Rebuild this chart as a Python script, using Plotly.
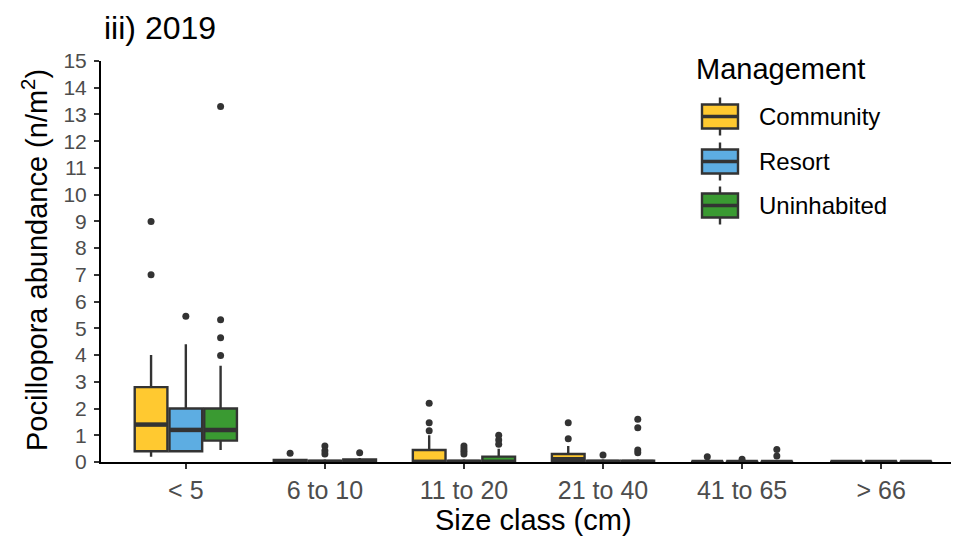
import plotly.graph_objects as go

# ---------------- data ----------------
categories = ["< 5", "6 to 10", "11 to 20", "21 to 40", "41 to 65", "> 66"]
groups = ["Community", "Resort", "Uninhabited"]
colors = ["#FFC930", "#5DADE2", "#3A9A32"]

community_q1 = [0.4, 0, 0, 0, 0, 0]
community_median = [1.4, 0, 0, 0.1, 0, 0]
community_q3 = [2.8, 0.08, 0.45, 0.3, 0, 0]
community_lower = [0.2, 0, 0, 0, 0, 0]
community_upper = [4.0, 0.1, 1.0, 0.6, 0, 0]
community_outliers = [[9.0, 7.0], [0.33], [2.2, 1.47, 1.17], [1.47, 0.87], [0.2], []]

resort_q1 = [0.4, 0, 0, 0, 0, 0]
resort_median = [1.2, 0, 0, 0, 0, 0]
resort_q3 = [2.0, 0.05, 0.05, 0.05, 0, 0]
resort_lower = [0.4, 0, 0, 0, 0, 0]
resort_upper = [4.4, 0.1, 0.1, 0.1, 0, 0]
resort_outliers = [[5.45], [0.6, 0.42, 0.3], [0.6, 0.5, 0.4, 0.3], [0.26], [0.1], []]

uninhab_q1 = [0.8, 0, 0, 0, 0, 0]
uninhab_median = [1.2, 0, 0, 0, 0, 0]
uninhab_q3 = [2.0, 0.1, 0.2, 0.05, 0, 0]
uninhab_lower = [0.45, 0, 0, 0, 0, 0]
uninhab_upper = [3.6, 0.15, 0.5, 0.1, 0.05, 0]
uninhab_outliers = [[13.3, 5.32, 4.65, 3.98], [0.35], [1.0, 0.82, 0.66], [1.6, 1.28, 0.45, 0.35], [0.47, 0.22], []]

y_ticks = list(range(0, 16))

# ---------------- styling ----------------
FONT = "Liberation Sans, Arial, sans-serif"
LINE = "#333333"
offsets = [-0.25, 0.0, 0.25]
box_w = 0.235

stats = [
    (community_q1, community_median, community_q3, community_lower, community_upper, community_outliers),
    (resort_q1, resort_median, resort_q3, resort_lower, resort_upper, resort_outliers),
    (uninhab_q1, uninhab_median, uninhab_q3, uninhab_lower, uninhab_upper, uninhab_outliers),
]

fig = go.Figure()
for gi, (name, col, st) in enumerate(zip(groups, colors, stats)):
    q1, med, q3, lo, hi, outs = st
    pos = [i + offsets[gi] for i in range(len(categories))]
    fig.add_trace(go.Box(
        x=pos, q1=q1, median=med, q3=q3, lowerfence=lo, upperfence=hi,
        width=box_w, whiskerwidth=0, fillcolor=col,
        line=dict(color=LINE, width=2.4), boxpoints=False,
        name=name, showlegend=False, hoverinfo="skip",
    ))
    # thick median line
    mx, my = [], []
    for p, m in zip(pos, med):
        mx += [p - box_w / 2 + 0.004, p + box_w / 2 - 0.004, None]
        my += [m, m, None]
    fig.add_trace(go.Scatter(x=mx, y=my, mode="lines",
                             line=dict(color=LINE, width=4.5),
                             showlegend=False, hoverinfo="skip"))
    # outliers
    ox, oy = [], []
    for p, vals in zip(pos, outs):
        for v in vals:
            ox.append(p)
            oy.append(v)
    fig.add_trace(go.Scatter(x=ox, y=oy, mode="markers",
                             marker=dict(color=LINE, size=7),
                             cliponaxis=False, showlegend=False, hoverinfo="skip"))

# ---------------- layout geometry (page body has an 8px margin) ----------------
OFF = 8
FIG_W, FIG_H = 959 - OFF, 538 - OFF
PLOT_L, PLOT_R, PLOT_T, PLOT_B = 101, 959, 61, 462   # target pixel box in the screenshot
L = PLOT_L - OFF
R = FIG_W - (PLOT_R - OFF)
T = PLOT_T - OFF
B = FIG_H - (PLOT_B - OFF)
W, H = FIG_W - L - R, FIG_H - T - B

def px(x):
    return (x - OFF - L) / W
def py(y):
    return (FIG_H - B - (y - OFF)) / H

shapes = []
annotations = []
key_cx = 720
key_half = 18
legend_y = [116.5, 161.5, 205.5]
for name, col, yc in zip(groups, colors, legend_y):
    shapes.append(dict(type="line", xref="paper", yref="paper",
                       x0=px(key_cx), x1=px(key_cx), y0=py(yc - 19), y1=py(yc + 19),
                       line=dict(color=LINE, width=2.4)))
    shapes.append(dict(type="rect", xref="paper", yref="paper",
                       x0=px(key_cx - key_half), x1=px(key_cx + key_half),
                       y0=py(yc - 12), y1=py(yc + 12),
                       fillcolor=col, line=dict(color=LINE, width=2.4)))
    shapes.append(dict(type="line", xref="paper", yref="paper",
                       x0=px(key_cx - key_half), x1=px(key_cx + key_half),
                       y0=py(yc), y1=py(yc),
                       line=dict(color=LINE, width=3.5)))
    annotations.append(dict(text=name, xref="paper", yref="paper",
                            x=px(757), y=py(yc), xanchor="left", yanchor="middle",
                            showarrow=False, font=dict(family=FONT, size=24, color="black")))
annotations.append(dict(text="Management", xref="paper", yref="paper",
                        x=px(694), y=py(69), xanchor="left", yanchor="middle",
                        showarrow=False, font=dict(family=FONT, size=29, color="black")))
annotations.append(dict(text="iii) 2019", xref="paper", yref="paper",
                        x=px(102), y=py(28), xanchor="left", yanchor="middle",
                        showarrow=False, font=dict(family=FONT, size=32, color="black")))
annotations.append(dict(text="Size class (cm)", xref="paper", yref="paper",
                        x=px(533), y=py(520), xanchor="center", yanchor="middle",
                        showarrow=False, font=dict(family=FONT, size=29, color="black")))
annotations.append(dict(text="Pocillopora abundance (n/m<sup>2</sup>)", xref="paper", yref="paper",
                        x=px(35), y=py(260), xanchor="center", yanchor="middle", textangle=-90,
                        showarrow=False, font=dict(family=FONT, size=29, color="black")))

fig.update_layout(
    width=FIG_W, height=FIG_H,
    margin=dict(l=L, r=R, t=T, b=B),
    paper_bgcolor="white", plot_bgcolor="white",
    boxmode="overlay",
    showlegend=False,
    font=dict(family=FONT, color="black"),
    shapes=shapes, annotations=annotations,
)
fig.update_xaxes(
    range=[-0.61, 5.56], automargin=False,
    tickmode="array", tickvals=list(range(len(categories))), ticktext=categories,
    tickfont=dict(family=FONT, size=25, color="#4D4D4D"),
    ticks="outside", ticklen=5, tickwidth=1.5, tickcolor=LINE,
    showline=True, linecolor="black", linewidth=2,
    showgrid=False, zeroline=False,
)
fig.update_yaxes(
    range=[0, 15], automargin=False,
    tickmode="array", tickvals=y_ticks, ticktext=[str(v) for v in y_ticks],
    tickfont=dict(family=FONT, size=21, color="#4D4D4D"),
    ticks="outside", ticklen=5, tickwidth=1.5, tickcolor=LINE,
    ticklabelstandoff=3,
    showline=True, linecolor="black", linewidth=2,
    showgrid=False, zeroline=False,
)

fig.write_html("out.html")
